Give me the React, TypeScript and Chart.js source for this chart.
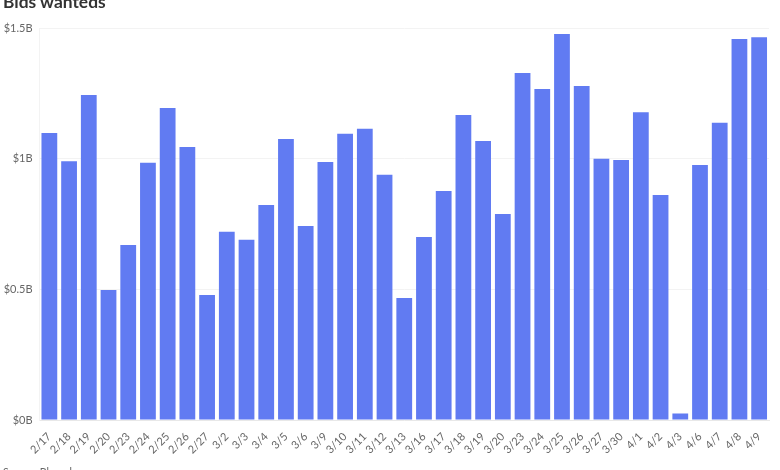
import React, { useEffect, useRef } from "react";
import Chart from "chart.js/auto";

const dates = ["2/17","2/18","2/19","2/20","2/23","2/24","2/25","2/26","2/27","3/2","3/3","3/4","3/5","3/6","3/9","3/10","3/11","3/12","3/13","3/16","3/17","3/18","3/19","3/20","3/23","3/24","3/25","3/26","3/27","3/30","4/1","4/2","4/3","4/6","4/7","4/8","4/9"];
// billions of dollars
const bids = [1.098,0.99,1.244,0.497,0.67,0.984,1.194,1.045,0.478,0.72,0.69,0.823,1.075,0.742,0.987,1.095,1.114,0.938,0.467,0.70,0.876,1.167,1.068,0.788,1.328,1.267,1.477,1.278,1.0,0.995,1.178,0.861,0.025,0.976,1.137,1.458,1.465];
const yTicks = [0, 0.5, 1, 1.5];

export default function App() {
  const canvasRef = useRef<HTMLCanvasElement | null>(null);

  useEffect(() => {
    const canvas = canvasRef.current;
    if (!canvas) return;
    const chart = new Chart(canvas, {
      type: "bar",
      data: {
        labels: dates,
        datasets: [
          {
            data: bids,
            backgroundColor: "#617bf2",
            barPercentage: 0.8,
            categoryPercentage: 1,
          },
        ],
      },
      options: {
        animation: false,
        responsive: false,
        layout: { padding: { top: 28, right: 11, bottom: 10, left: 0 } },
        plugins: { legend: { display: false }, tooltip: { enabled: false } },
        scales: {
          x: {
            grid: { display: false },
            border: { color: "#e8e8e8" },
            afterFit: (scale) => {
              scale.height = 40;
            },
            ticks: {
              color: "#666",
              font: { family: "Lato", size: 11 },
              maxRotation: 45,
              minRotation: 45,
              autoSkip: false,
              padding: 2,
            },
          },
          y: {
            min: 0,
            max: 1.5,
            afterFit: (scale) => {
              scale.width = 39.5;
            },
            afterBuildTicks: (scale) => {
              scale.ticks = yTicks.map((value) => ({ value }));
            },
            grid: { color: "#f3f3f3", drawTicks: false },
            border: { color: "#f3f3f3" },
            ticks: {
              color: "#666",
              font: { family: "Lato", size: 11 },
              padding: 7,
              callback: (value) => "$" + value + "B",
            },
          },
        },
      },
    });
    return () => chart.destroy();
  }, []);

  return (
    <div style={{ position: "absolute", left: 0, top: 0, width: 780, height: 470, overflow: "hidden", background: "#fff", fontFamily: "Lato" }}>
      <canvas ref={canvasRef} width={780} height={470} style={{ position: "absolute", left: 0, top: 0 }} />
      <div style={{ position: "absolute", left: 3, top: -9, fontSize: 17.4, fontWeight: 700, color: "#333" }}>Bids wanteds</div>
      <div style={{ position: "absolute", left: 3, top: 466, fontSize: 10.5, color: "#666" }}>Source: Bloomberg</div>
    </div>
  );
}
